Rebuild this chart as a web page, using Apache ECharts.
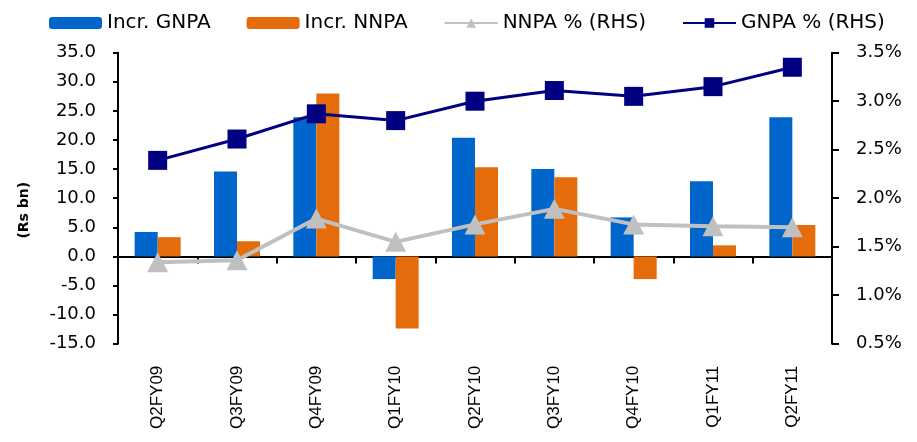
<!DOCTYPE html>
<html>
<head>
<meta charset="utf-8">
<script src="https://cdn.jsdelivr.net/npm/echarts@6/dist/echarts.min.js"></script>
<style>
html,body{margin:0;padding:0;background:#fff;}
#chart{width:917px;height:442px;}
</style>
</head>
<body>
<div id="chart"></div>
<script>
const categories = ['Q2FY09','Q3FY09','Q4FY09','Q1FY10','Q2FY10','Q3FY10','Q4FY10','Q1FY11','Q2FY11'];
const incrGNPA = [4.2, 14.6, 23.9, -3.9, 20.4, 15.0, 6.7, 12.9, 23.9];
const incrNNPA = [3.3, 2.6, 28.0, -12.4, 15.3, 13.6, -3.9, 1.9, 5.4];
const nnpaPct = [1.34, 1.36, 1.79, 1.55, 1.73, 1.89, 1.73, 1.71, 1.70];
const gnpaPct = [2.39, 2.61, 2.87, 2.80, 3.00, 3.11, 3.05, 3.15, 3.35];
const leftTicks = {min: -15, max: 35, interval: 5};
const rightTicks = {min: 0.5, max: 3.5, interval: 0.5};

const chart = echarts.init(document.getElementById('chart'), null, {renderer: 'canvas'});
const font = 'DejaVu Sans';
chart.setOption({
  animation: false,
  backgroundColor: '#ffffff',
  legend: {
    left: 44, top: 8,
    itemWidth: 53, itemHeight: 12, itemGap: 36,
    textStyle: {fontFamily: font, fontSize: 20, color: '#000'},
    data: ['Incr. GNPA', 'Incr. NNPA', 'NNPA % (RHS)', 'GNPA % (RHS)']
  },
  grid: {left: 118, right: 85, top: 52.7, bottom: 98.3, containLabel: false},
  xAxis: [
    {
      type: 'category', data: categories, position: 'bottom',
      axisLine: {onZero: true, onZeroAxisIndex: 0, lineStyle: {color: '#000', width: 2}},
      axisTick: {show: true, length: 7, lineStyle: {color: '#000', width: 2}},
      axisLabel: {show: false},
      splitLine: {show: false}
    },
    {
      type: 'category', data: categories, position: 'bottom',
      axisLine: {show: false, onZero: false},
      axisTick: {show: false},
      axisLabel: {show: true, rotate: 90, margin: 22, fontFamily: 'Liberation Sans', fontSize: 17, color: '#000'},
      splitLine: {show: false}
    }
  ],
  yAxis: [
    {
      type: 'value', min: leftTicks.min, max: leftTicks.max, interval: leftTicks.interval,
      name: '(Rs bn)', nameLocation: 'middle', nameGap: 87, nameRotate: 90,
      nameTextStyle: {fontFamily: font, fontWeight: 'bold', fontSize: 14, color: '#000', padding: [0,0,0,-24]},
      axisLine: {show: true, lineStyle: {color: '#000', width: 2}},
      axisTick: {show: true, length: 5, lineStyle: {color: '#000', width: 2}},
      axisLabel: {margin: 22, fontFamily: font, fontSize: 18, color: '#000', formatter: v => v.toFixed(1)},
      splitLine: {show: false}
    },
    {
      type: 'value', min: rightTicks.min, max: rightTicks.max, interval: rightTicks.interval, position: 'right',
      axisLine: {show: true, lineStyle: {color: '#000', width: 2}},
      axisTick: {show: true, length: 7, lineStyle: {color: '#000', width: 2}},
      axisLabel: {margin: 24, fontFamily: font, fontSize: 18, color: '#000', formatter: v => v.toFixed(1) + '%'},
      splitLine: {show: false}
    }
  ],
  series: [
    {name: 'Incr. GNPA', type: 'bar', xAxisIndex: 0, yAxisIndex: 0, data: incrGNPA, barWidth: 23, barGap: '0%', itemStyle: {color: '#0066CC'}},
    {name: 'Incr. NNPA', type: 'bar', xAxisIndex: 0, yAxisIndex: 0, data: incrNNPA, barWidth: 23, barGap: '0%', itemStyle: {color: '#E46C0A'}},
    {name: 'NNPA % (RHS)', type: 'line', xAxisIndex: 0, yAxisIndex: 1, data: nnpaPct, symbol: 'triangle', symbolSize: [21, 20],
      lineStyle: {color: '#C0C0C0', width: 4}, itemStyle: {color: '#C0C0C0'}, z: 3},
    {name: 'GNPA % (RHS)', type: 'line', xAxisIndex: 0, yAxisIndex: 1, data: gnpaPct, symbol: 'rect', symbolSize: 19,
      lineStyle: {color: '#000080', width: 3}, itemStyle: {color: '#000080'}, z: 4}
  ]
});
</script>
</body>
</html>
